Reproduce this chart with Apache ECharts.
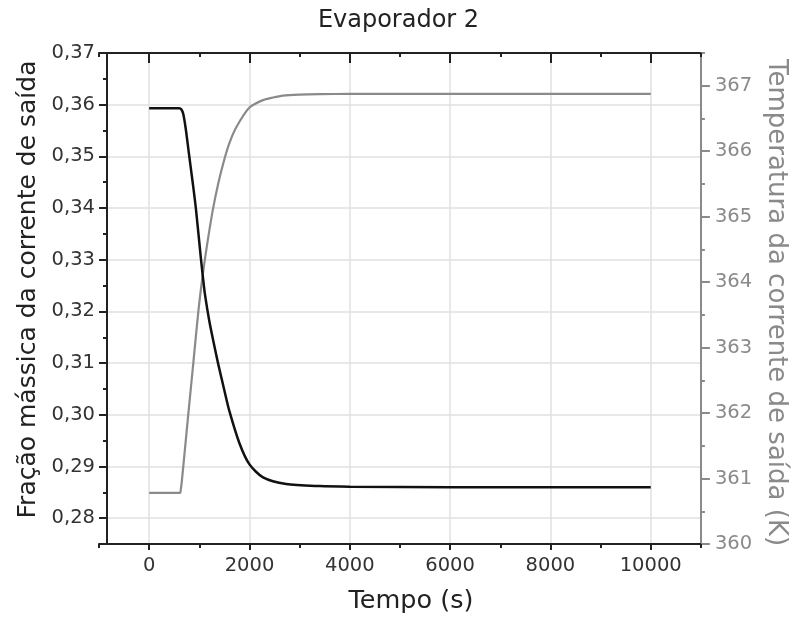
<!DOCTYPE html>
<html>
<head>
<meta charset="utf-8">
<script src="https://cdn.jsdelivr.net/npm/echarts@6/dist/echarts.min.js"></script>
<style>
  html, body { margin: 0; padding: 0; background: #fff; }
  #chart { width: 797px; height: 619px; }
</style>
</head>
<body>
<div id="chart"></div>
<script>
// fração mássica (eixo esquerdo)
var tempoFracao = [0, 600, 640, 680, 730, 800, 870, 933, 1032, 1077, 1111, 1200, 1300, 1375, 1500, 1600, 1800, 2000, 2270, 2730, 3400, 4000, 6000, 10000]
var fracao = [0.3593, 0.3593, 0.3591, 0.3582, 0.3553, 0.3500, 0.3448, 0.3398, 0.3302, 0.3262, 0.3234, 0.3181, 0.3133, 0.3099, 0.3047, 0.3007, 0.2945, 0.2904, 0.2879, 0.2866, 0.2862, 0.2861, 0.2860, 0.2860]

// temperatura (eixo direito)
var tempoTemp = [0, 615, 630, 650, 681, 780, 881, 979, 1050, 1131, 1264, 1375, 1508, 1607, 1740, 2004, 2268, 2467, 2665, 2996, 3400, 4000, 10000]
var temperatura = [360.78, 360.78, 360.83, 360.95, 361.19, 361.98, 362.77, 363.54, 364.00, 364.45, 365.08, 365.50, 365.90, 366.14, 366.37, 366.67, 366.78, 366.82, 366.85, 366.865, 366.872, 366.875, 366.875]

// rótulos dos eixos
var ticksX = [0, 2000, 4000, 6000, 8000, 10000]
var ticksEsq = [0.28, 0.29, 0.30, 0.31, 0.32, 0.33, 0.34, 0.35, 0.36, 0.37]
var ticksDir = [360, 361, 362, 363, 364, 365, 366, 367]

var fonte = 'DejaVu Sans'
var cinza = '#8a8a8a'

var dadosFracao = tempoFracao.map(function (t, i) { return [t, fracao[i]] })
var dadosTemp = tempoTemp.map(function (t, i) { return [t, temperatura[i]] })

var myChart = echarts.init(document.getElementById('chart'))
var option = {
  animation: false,
  backgroundColor: '#fff',
  title: {
    text: 'Evaporador 2',
    left: 'center',
    top: 4,
    textStyle: { fontFamily: fonte, fontSize: 24, fontWeight: 'normal', color: '#222' }
  },
  grid: { left: 99, right: 92, top: 53, bottom: 74 },
  xAxis: [
    {
      type: 'value', position: 'bottom', min: -1000, max: 11000,
      name: 'Tempo (s)', nameLocation: 'middle', nameGap: 44,
      nameTextStyle: { fontFamily: fonte, fontSize: 25.5, color: '#222', padding: [0, 0, 0, 22] },
      axisLine: { onZero: false, lineStyle: { color: '#222', width: 2 } },
      axisTick: { customValues: ticksX, length: 6, lineStyle: { color: '#222', width: 2 } },
      axisLabel: {
        customValues: ticksX, margin: 12, fontFamily: fonte, fontSize: 19.5, color: '#333',
        formatter: function (v) { return String(v) }
      },
      splitLine: { show: true, lineStyle: { color: '#e0e0e0', width: 1.5 } }
    },
    {
      type: 'value', position: 'bottom', min: -1000, max: 11000, interval: 1000,
      axisLine: { show: false, onZero: false },
      axisTick: { length: 4, lineStyle: { color: '#222', width: 2 } },
      axisLabel: { show: false },
      splitLine: { show: false }
    },
    {
      type: 'value', position: 'top', min: -1000, max: 11000,
      axisLine: { onZero: false, lineStyle: { color: '#222', width: 2 } },
      axisTick: { customValues: ticksX, inside: true, length: 10, lineStyle: { color: '#222', width: 2 } },
      axisLabel: { show: false },
      splitLine: { show: false }
    },
    {
      type: 'value', position: 'top', min: -1000, max: 11000, interval: 1000,
      axisLine: { show: false, onZero: false },
      axisTick: { inside: true, length: 4, lineStyle: { color: '#222', width: 2 } },
      axisLabel: { show: false },
      splitLine: { show: false }
    }
  ],
  yAxis: [
    {
      type: 'value', position: 'left', offset: -8, min: 0.275, max: 0.37,
      name: 'Fração mássica da corrente de saída', nameLocation: 'middle', nameGap: 62,
      nameTextStyle: { fontFamily: fonte, fontSize: 25, color: '#222', padding: [0, 0, 0, 18] },
      axisLine: { onZero: false, lineStyle: { color: '#222', width: 2 } },
      axisTick: { customValues: ticksEsq, length: 8, lineStyle: { color: '#222', width: 2 } },
      axisLabel: {
        customValues: ticksEsq, margin: 12, fontFamily: fonte, fontSize: 19.5, color: '#333',
        formatter: function (v) { return v.toFixed(2).replace('.', ',') }
      },
      splitLine: { show: true, lineStyle: { color: '#e0e0e0', width: 1.5 } }
    },
    {
      type: 'value', position: 'left', offset: -8, min: 0.275, max: 0.37, interval: 0.005,
      axisLine: { show: false, onZero: false },
      axisTick: { length: 4, lineStyle: { color: '#222', width: 2 } },
      axisLabel: { show: false },
      splitLine: { show: false }
    },
    {
      type: 'value', position: 'right', min: 360, max: 367.5,
      name: 'Temperatura da corrente de saída (K)', nameLocation: 'middle', nameGap: 54, nameRotate: -90,
      nameTextStyle: { fontFamily: fonte, fontSize: 26, color: cinza, padding: [0, 0, 0, 8] },
      axisLine: { onZero: false, lineStyle: { color: cinza, width: 2 } },
      axisTick: { customValues: ticksDir, length: 9, lineStyle: { color: cinza, width: 2 } },
      axisLabel: { customValues: ticksDir, margin: 14, fontFamily: fonte, fontSize: 19.5, color: cinza },
      splitLine: { show: false }
    },
    {
      type: 'value', position: 'right', min: 360, max: 367.5, interval: 0.5,
      axisLine: { show: false, onZero: false },
      axisTick: { length: 4, lineStyle: { color: cinza, width: 2 } },
      axisLabel: { show: false },
      splitLine: { show: false }
    }
  ],
  series: [
    {
      name: 'Fração mássica', type: 'line', xAxisIndex: 0, yAxisIndex: 0,
      data: dadosFracao, showSymbol: false, smooth: 0.25,
      lineStyle: { color: '#111', width: 2.5 }, z: 3
    },
    {
      name: 'Temperatura', type: 'line', xAxisIndex: 0, yAxisIndex: 2,
      data: dadosTemp, showSymbol: false, smooth: 0.25,
      lineStyle: { color: cinza, width: 2.2 }, z: 2
    }
  ]
}
myChart.setOption(option)
</script>
</body>
</html>
